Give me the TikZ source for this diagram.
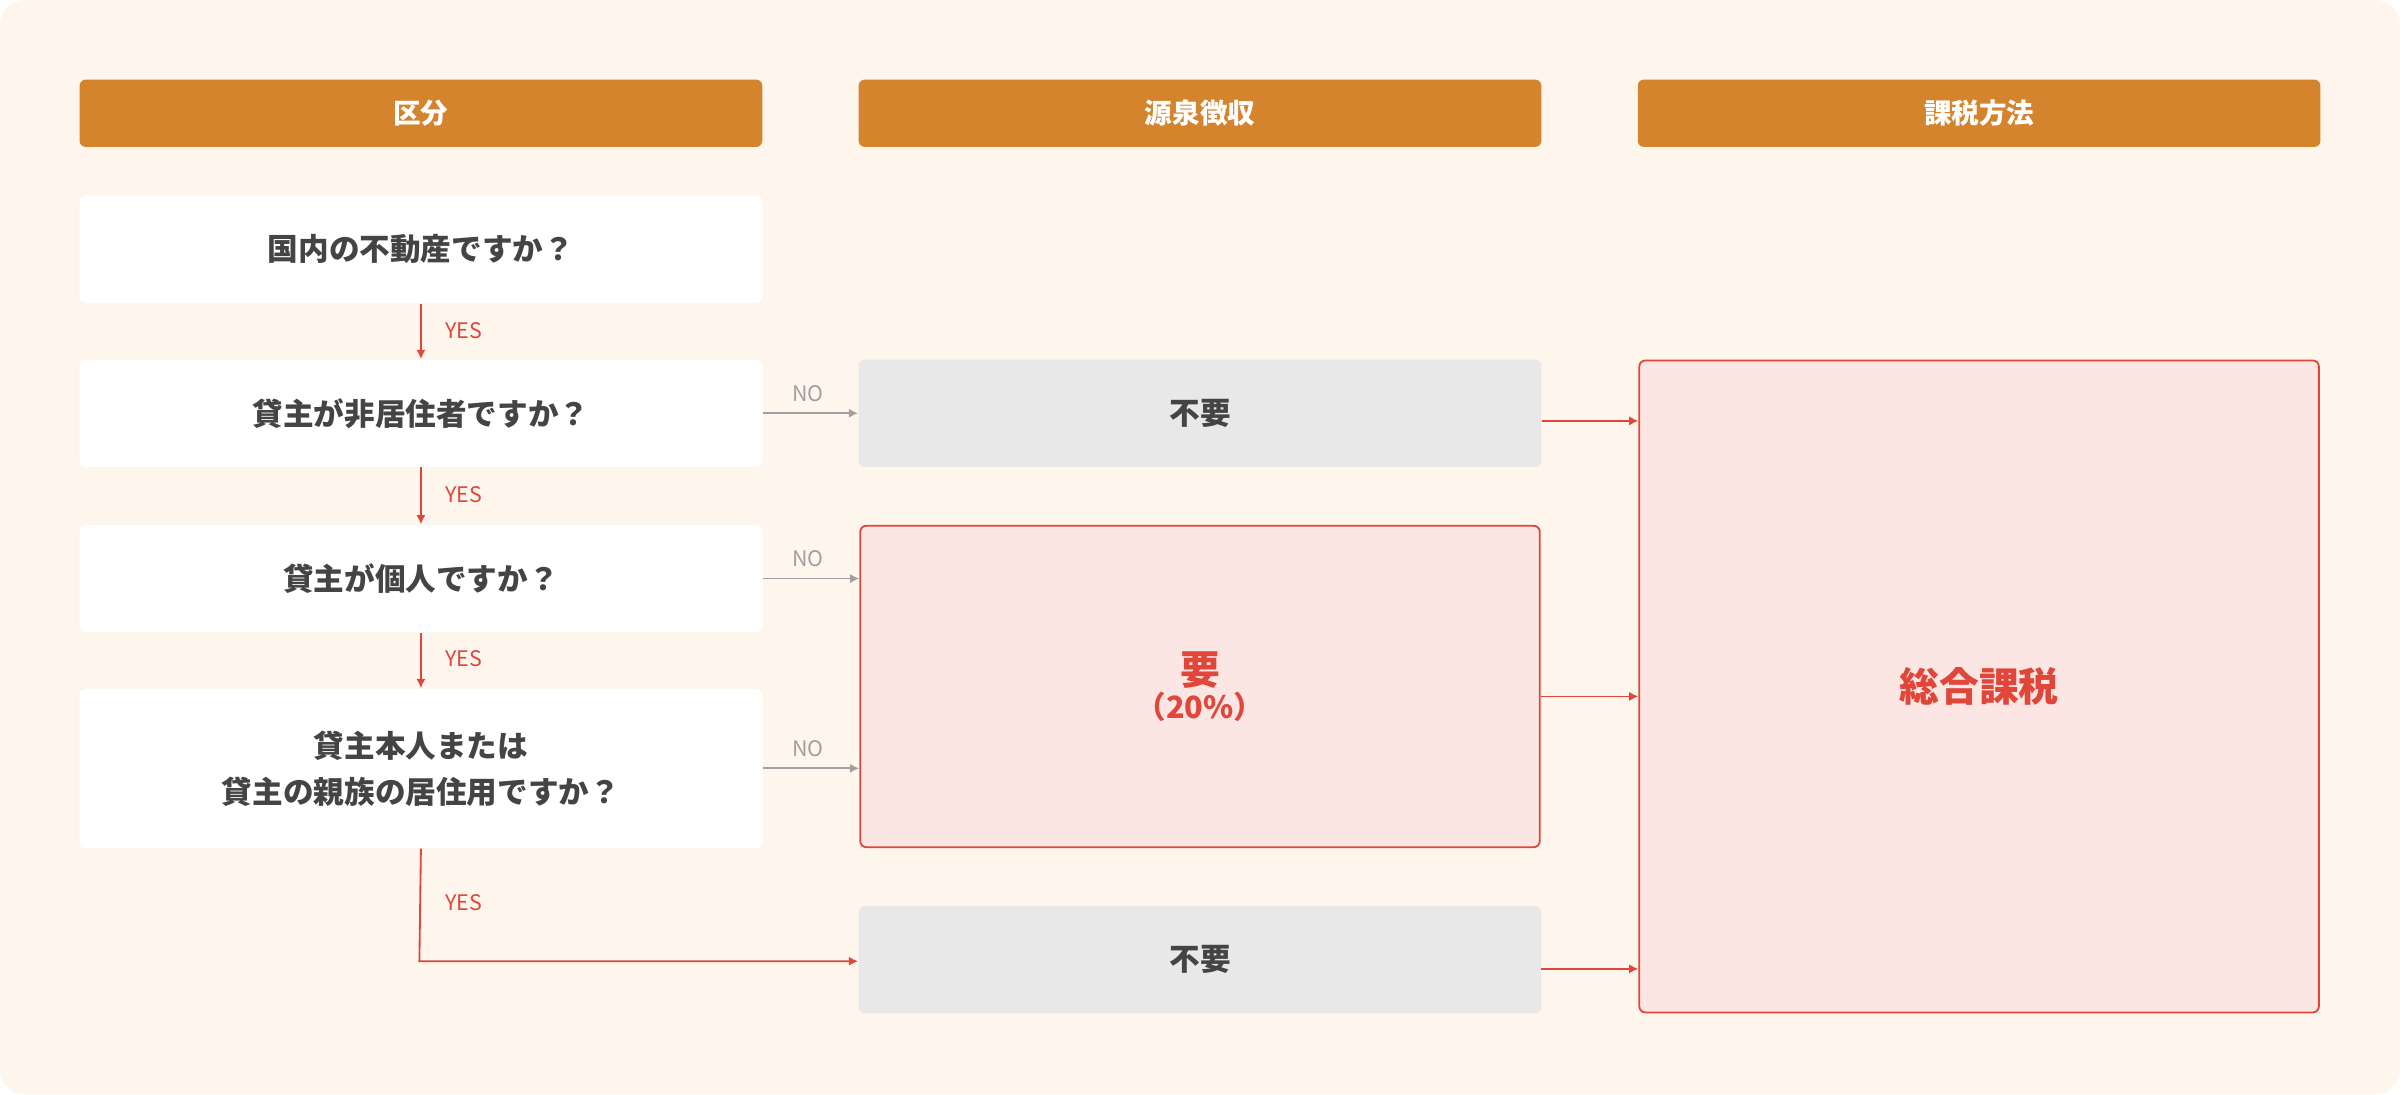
\documentclass[tikz,border=0pt]{standalone}
\usepackage{fontspec}
\newfontfamily\jp{Noto Sans CJK JP}
\usetikzlibrary{arrows.meta}
\definecolor{bg}{HTML}{FEF6EC}
\definecolor{hd}{HTML}{D4842C}
\definecolor{rd}{HTML}{E0473A}
\definecolor{pk}{HTML}{FBE6E3}
\definecolor{gy}{HTML}{E8E8E8}
\definecolor{tx}{HTML}{444444}
\definecolor{ng}{HTML}{A0A0A0}
\begin{document}
\begin{tikzpicture}[x=0.5pt,y=-0.5pt,font=\jp,
 hd/.style={fill=hd,rounded corners=2pt,text=white,font=\jp\bfseries\fontsize{9}{11}\selectfont},
 wb/.style={fill=white,rounded corners=2pt,text=tx,align=center,font=\jp\bfseries\fontsize{10}{15}\selectfont},
 gb/.style={fill=gy,rounded corners=2pt,text=tx,font=\jp\bfseries\fontsize{10}{12}\selectfont},
 pb/.style={fill=pk,draw=rd,line width=0.6pt,rounded corners=2pt,text=rd,align=center},
 ya/.style={draw=rd,line width=0.6pt,-{Latex[length=3pt,width=3pt]}},
 na/.style={draw=ng,line width=0.6pt,-{Latex[length=3pt,width=3pt]}},
 yl/.style={text=rd,font=\jp\fontsize{7}{8}\selectfont,anchor=west},
 nl/.style={text=ng,font=\jp\fontsize{7}{8}\selectfont}]
\fill[bg,rounded corners=8pt] (0,0) rectangle (1568,715);
\path[use as bounding box] (0,0) rectangle (1568,715);
\node[hd] (h1) at (275,74) {};
\path[fill=hd,rounded corners=2pt] (52,52) rectangle (498,96);
\path[fill=hd,rounded corners=2pt] (561,52) rectangle (1007,96);
\path[fill=hd,rounded corners=2pt] (1070,52) rectangle (1516,96);
\node[text=white,font=\jp\bfseries\fontsize{9}{11}\selectfont] (t1) at (275,74) {区分};
\node[text=white,font=\jp\bfseries\fontsize{9}{11}\selectfont] (t2) at (784,74) {源泉徴収};
\node[text=white,font=\jp\bfseries\fontsize{9}{11}\selectfont] (t3) at (1293,74) {課税方法};
\node[wb,minimum width=223pt,minimum height=35pt] (q1) at (275,163) {国内の不動産ですか？};
\node[wb,minimum width=223pt,minimum height=35pt] (q2) at (275,270) {貸主が非居住者ですか？};
\node[wb,minimum width=223pt,minimum height=35pt] (q3) at (275,378) {貸主が個人ですか？};
\node[wb,minimum width=223pt,minimum height=52pt] (q4) at (275,502) {貸主本人または\\貸主の親族の居住用ですか？};
\node[gb,minimum width=223pt,minimum height=35pt] (m1) at (784,270) {不要};
\node[pb,minimum width=222pt,minimum height=105pt] (m2) at (784,448.5) {{\bfseries\fontsize{13}{16}\selectfont 要}\\[-1pt]{\bfseries\fontsize{10}{12}\selectfont （20\%）}};
\node[gb,minimum width=223pt,minimum height=35pt] (m3) at (784,627) {不要};
\node[pb,minimum width=222pt,minimum height=213pt,font=\jp\bfseries\fontsize{13}{16}\selectfont] (r) at (1293,448.5) {総合課税};
\draw[ya] (q1.south) -- (q2.north); \node[yl] (y1) at (284,216) {YES};
\draw[ya] (q2.south) -- (q3.north); \node[yl] (y2) at (284,323) {YES};
\draw[ya] (q3.south) -- (q4.north); \node[yl] (y3) at (284,430) {YES};
\coordinate (c1) at (274,628);
\draw[ya] (q4.south) -- (c1) -- (m3.west|-c1); \node[yl] (y4) at (284,590) {YES};
\draw[na] (q2.east) -- (m1.west); \node[nl] (n1) at (528,257) {NO};
\draw[na] (q3.east) -- (m2.west|-q3.east); \node[nl] (n2) at (528,365) {NO};
\draw[na] (q4.east) -- (m2.west|-q4.east); \node[nl] (n3) at (528,489) {NO};
\draw[ya] (m1.east)++(0,5) -- (r.west|-0,275);
\draw[ya] (1007,455) -- (r.west|-0,455);
\draw[ya] (1007,633) -- (r.west|-0,633);
\end{tikzpicture}
\end{document}
